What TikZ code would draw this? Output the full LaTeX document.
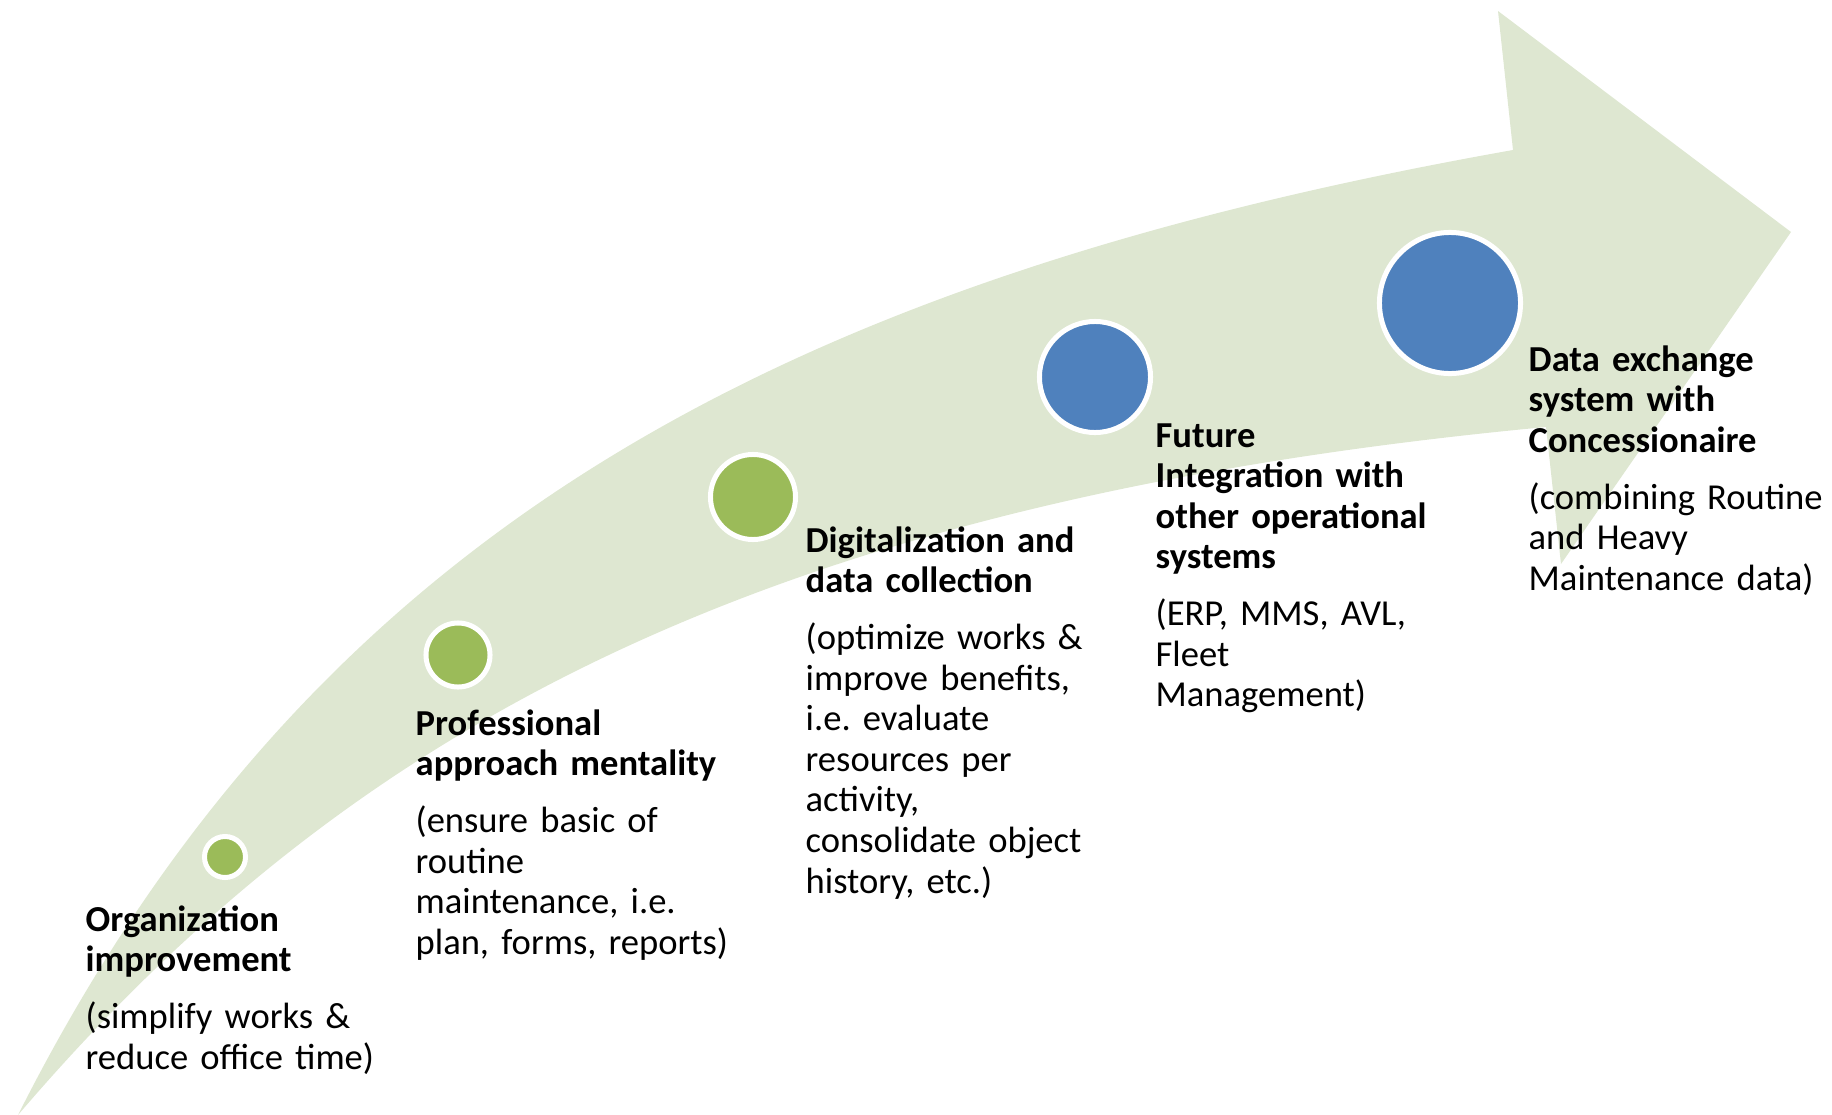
\documentclass[tikz,border=0pt]{standalone}
\usepackage{fontspec}
\setmainfont{Carlito}
\usepackage{xcolor}
\definecolor{bandgreen}{HTML}{DEE7D1}
\definecolor{dotgreen}{HTML}{9BBB59}
\definecolor{dotblue}{HTML}{4F81BD}
\frenchspacing

\begin{document}
\begin{tikzpicture}[x=0.01cm, y=-0.01cm,
    dot/.style={circle, draw=white, line width=0.05cm, inner sep=0pt},
    stage/.style={anchor=base west, inner sep=0pt, text width=3.2cm, align=left,
      font=\fontsize{10.4}{11.55}\selectfont}]
    \useasboundingbox (0,0) rectangle (1832,1115);
    % Arrow
    \fill[bandgreen] (18,1115) .. controls (310,536) and (774,281) .. (1513,150)
      -- (1498,11) -- (1791,232) -- (1561,564) -- (1546,427)
      .. controls (750,502) and (343,735) .. cycle;

    % Dots
    \node[dot, fill=dotgreen, minimum size=0.41cm] (d1) at (225,857) {};
    \node[dot, fill=dotgreen, minimum size=0.64cm] (d2) at (458,655) {};
    \node[dot, fill=dotgreen, minimum size=0.85cm] (d3) at (753,497) {};
    \node[dot, fill=dotblue, minimum size=1.11cm] (d4) at (1095,377) {};
    \node[dot, fill=dotblue, minimum size=1.41cm] (d5) at (1450,303) {};

    % Stages
    \node[stage] (t1) at (85,931) {\textbf{Organization\\improvement}\\[4.6pt]
      (simplify works \&\\reduce office time)};
    \node[stage] (t2) at (415,735) {\textbf{Professional\\approach mentality}\\[4.6pt]
      (ensure basic of\\routine\\maintenance, i.e.\\plan, forms, reports)};
    \node[stage] (t3) at (805,552) {\textbf{Digitalization and\\data collection}\\[4.6pt]
      (optimize works \&\\improve benefits,\\i.e. evaluate\\resources per\\activity,\\consolidate object\\history, etc.)};
    \node[stage] (t4) at (1155,447) {\textbf{Future\\Integration with\\other operational\\systems}\\[4.6pt]
      (ERP, MMS, AVL,\\Fleet\\Management)};
    \node[stage] (t5) at (1528,371) {\textbf{Data exchange\\system with\\Concessionaire}\\[4.6pt]
      (combining Routine\\and Heavy\\Maintenance data)};
\end{tikzpicture}
\end{document}
